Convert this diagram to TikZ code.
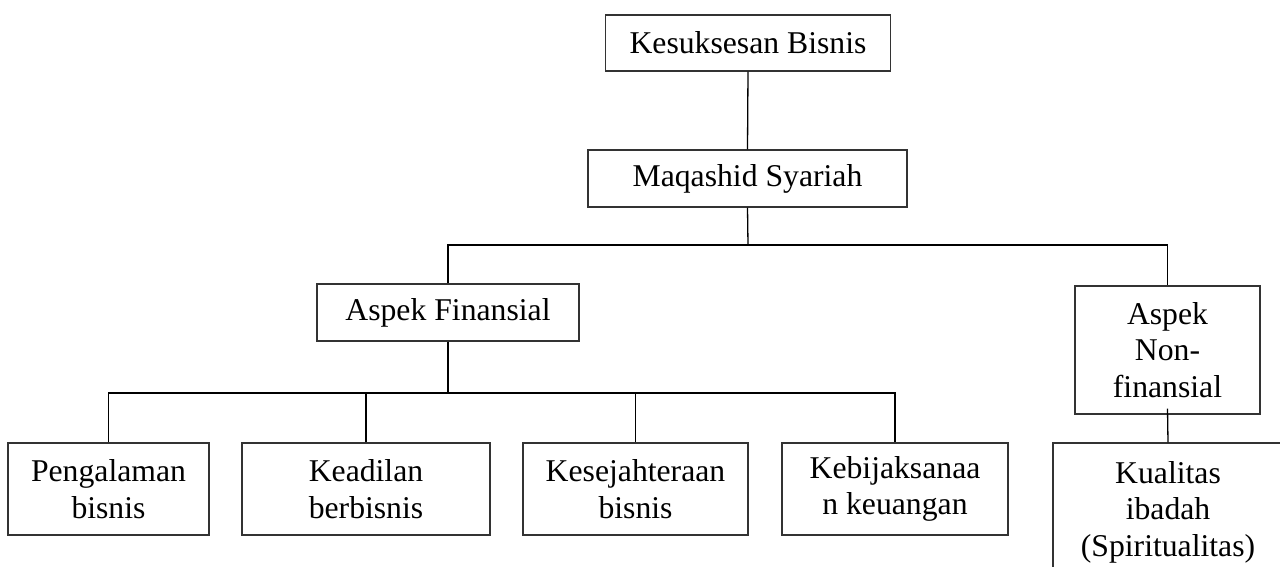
\documentclass[tikz,border=0pt]{standalone}
\usepackage{fontspec}
\setmainfont{Liberation Serif}
\begin{document}
\begin{tikzpicture}[x=1pt,y=-1pt,
  font=\fontsize{31.7}{36.5}\selectfont,
  box/.style={draw=black!80, line width=1.2pt, inner sep=0pt, align=center, anchor=center},
  link/.style={draw=black, line width=1.3pt}]
\useasboundingbox (0,0) rectangle (1280,567);
\clip (0,0) rectangle (1280,567);
\node[box, minimum width=285pt, minimum height=56pt] (ks) at (748,43) {Kesuksesan Bisnis};
\node[box, minimum width=319pt, minimum height=57pt] (ms) at (747.5,178.5) {Maqashid Syariah};
\node[box, minimum width=262pt, minimum height=57pt] (af) at (448,312.5) {Aspek Finansial};
\node[box, minimum width=185pt, minimum height=128pt] (nf) at (1167.5,350) {Aspek\\Non-\\finansial};
\node[box, minimum width=201pt, minimum height=92pt] (c1) at (108.5,489) {Pengalaman\\bisnis};
\node[box, minimum width=248pt, minimum height=92pt] (c2) at (366,489) {Keadilan\\berbisnis};
\node[box, minimum width=225pt, minimum height=92pt] (c3) at (635.5,489) {Kesejahteraan\\bisnis};
\node[box, minimum width=226pt, minimum height=92pt] (c4) at (895,489) {Kebijaksanaa\\n keuangan};
\node[box, minimum width=230pt, minimum height=138pt] (kq) at (1168,512) {Kualitas\\ibadah\\(Spiritualitas)};
\coordinate (b1) at (748,245);
\coordinate (b2) at (448,393);
\draw[link] (ks.south) -- (ms.north);
\draw[link] (ms.south) -- (b1);
\draw[link] (af.north) |- (b1) -| (nf.north);
\draw[link] (af.south) -- (b2);
\draw[link] (c1.north) |- (b2) -| (c4.north);
\draw[link] (c2.north) -- (c2.north |- b2);
\draw[link] (c3.north) -- (c3.north |- b2);
\draw[link] ([yshift=6pt]nf.south) -- (kq.north);
\end{tikzpicture}
\end{document}
